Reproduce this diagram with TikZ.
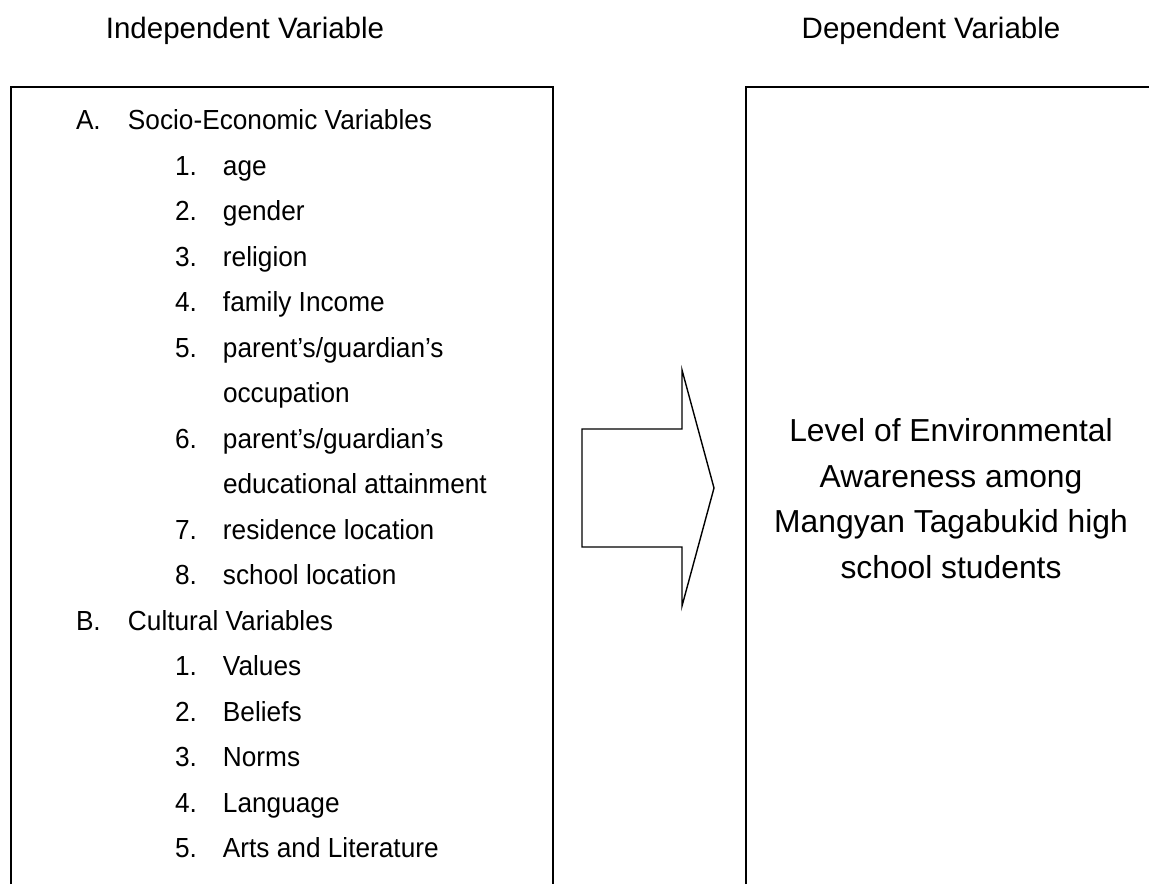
\documentclass[tikz,border=0pt]{standalone}
\usepackage{fontspec}
\setmainfont{Liberation Sans}
\newfontfamily\listfont[FakeStretch=0.95]{Liberation Sans}
\usepackage{array}
\usetikzlibrary{calc}

\begin{document}
\begin{tikzpicture}[x=0.5pt, y=-0.5pt, inner sep=0pt, outer sep=0pt, line width=0.7pt,
    every node/.style={font=\fontsize{14.75pt}{22.75pt}\selectfont}]
    \useasboundingbox (0,0) rectangle (1149,884);

    % headings
    \node[anchor=base] (indep_cap) at (245, 38) {Independent Variable};
    \node[anchor=base] (dep_cap) at (931, 38) {Dependent Variable};

    % frames, both run off the page
    \draw (11, 884) -- (11, 87) -- (553, 87) -- (553, 884);
    \draw (746, 884) -- (746, 87) -- (1149, 87);

    % independent variables
    \node[anchor=north west, font=\listfont\fontsize{13.8pt}{22.75pt}\selectfont] (indep_list) at (76, 98)
    {
    \begin{tabular}{@{}p{26pt}@{}p{23.5pt}@{}p{24pt}@{}l@{}}
    A. & \multicolumn{3}{@{}l@{}}{Socio-Economic Variables} \\
       &    & 1. & age \\
       &    & 2. & gender \\
       &    & 3. & religion \\
       &    & 4. & family Income \\
       &    & 5. & parent’s/guardian’s \\
       &    &    & occupation \\
       &    & 6. & parent’s/guardian’s \\
       &    &    & educational attainment \\
       &    & 7. & residence location \\
       &    & 8. & school location \\
    B. & \multicolumn{3}{@{}l@{}}{Cultural Variables} \\
       &    & 1. & Values \\
       &    & 2. & Beliefs \\
       &    & 3. & Norms \\
       &    & 4. & Language \\
       &    & 5. & Arts and Literature \\
    \end{tabular}
    };

    % dependent variable
    \node[anchor=north, font=\fontsize{15.9pt}{22.75pt}\selectfont] (dep_text) at (951, 410)
    {
    \begin{tabular}{@{}c@{}}
    Level of Environmental \\
    Awareness among \\
    Mangyan Tagabukid high \\
    school students \\
    \end{tabular}
    };

    % block arrow
    \draw[line join=miter] (582, 429) -- (682, 429) -- (682, 370) -- (714, 488)
        -- (682, 606) -- (682, 547) -- (582, 547) -- cycle;

\end{tikzpicture}
\end{document}
